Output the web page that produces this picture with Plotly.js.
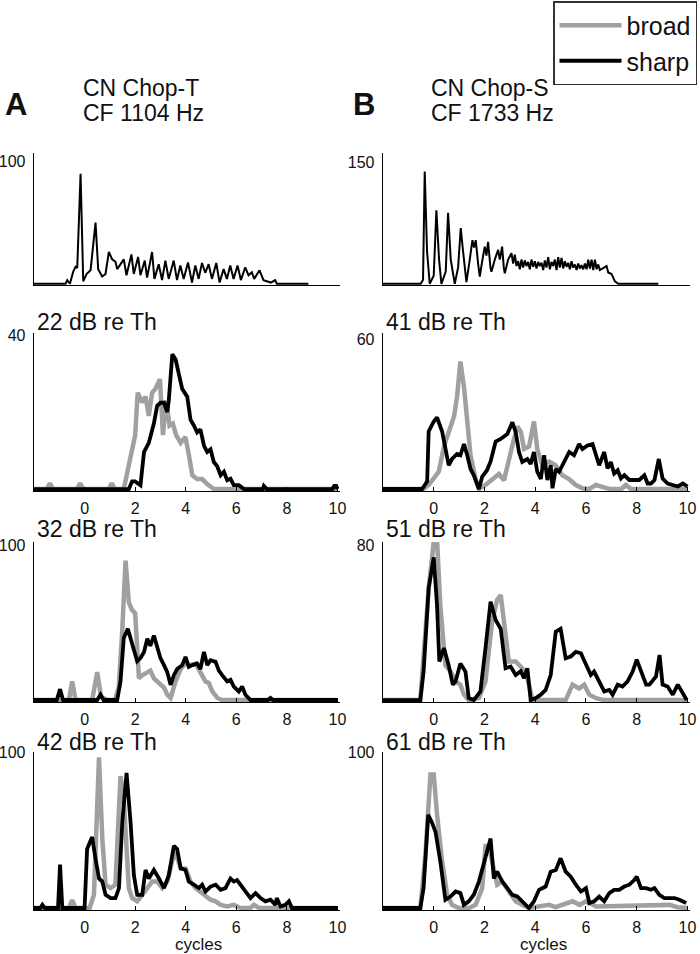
<!DOCTYPE html>
<html><head><meta charset="utf-8">
<script src="https://cdn.plot.ly/plotly-3.0.1.min.js"></script>
<style>html,body{margin:0;padding:0;background:#fff}#chart{width:700px;height:954px}</style>
</head><body><div id="chart"></div>
<script>
// ---- Top row PSTHs (arbitrary time units) ----
const psthA_t = [0,9.5,10,10.8,11.8,12.5,13,14,14.8,15.8,
  17,18.5,19.3,20.5,21.5,22.5,23.5,24.5,25,26,
  27,27.8,29.3,30,31.3,32,33.3,34,35.5,36.2,
  37.5,38.5,39.5,40.5,42,43,44,45,46.3,47.5,
  48.5,49.5,50.5,51.5,52.5,53.5,54.8,55.8,57,58,
  59,60,61.2,62.2,63.5,64.5,65.5,66.2,67.8,69,
  70,71.2,72.5,73,82.5];
const psthA_rate = [0,0,3,0,10,14,13,90,2,8,
  11,50,12,6,8,26,20,18,12,16,
  20,7,24,8,22,7,19,5,26,4,
  16,3,19,4,19,3,15,4,17.5,1,
  15,4,17,9,16,4,17,1,12,4,
  15,4,15,3,13.5,7,9.5,4,11,3,
  2,1,3,0,0];
const psthB_t = [0,11.3,12,12.5,13.2,14,15.2,16,16.8,17.5,
  18.8,19.5,20.3,21.5,22.5,23.3,24,25,26,26.8,
  27.3,27.8,28.5,29,29.8,30.5,31,31.5,32.2,32.5,
  33.5,34.5,35,35.7,36.2,36.5,37.5,38.5,39,39.5,
  40,40.5,41,41.5,42,42.5,43,43.5,44,44.5,
  45,45.5,46,46.5,47,47.5,48,48.5,49,49.5,
  50,50.5,51,51.5,52,52.5,53,53.5,54,54.5,
  55,55.5,56,56.5,57,57.5,58,58.5,59,59.5,
  60,60.5,61,61.5,62,62.5,63,63.5,64,64.5,
  65,66,67,67.5,68.5,69.5,70.5,82.5];
const psthB_rate = [0,0,5,139,40,0,10,91,30,0,
  15,88,30,0,20,69,40,2,30,54,
  45,54,25,9,30,46,35,52,20,15,
  30,42,30,46,20,13,30,38,25,36,
  22,28,18,30,20,29,22,27,18,30,
  21,28,19,27,22,26,17,29,20,33,
  18,27,22,30,17,33,20,32,19,28,
  21,26,18,28,20,24,17,25,19,23,
  18,25,18,30,19,30,17,30,18,24,
  17,20,22,14,12,3,0,0];

// ---- Column A, cycles ----
const b22_x = [-2,-1.5,-1.37,-1.25,-0.3,-0.18,-0.05,0.95,1.07,1.2,
  1.55,1.75,1.88,2.0,2.1,2.28,2.41,2.54,2.67,2.8,
  2.98,3.1,3.23,3.36,3.49,3.62,3.8,3.99,4.12,4.26,
  4.45,4.65,4.85,5.11,10];
const b22_y = [0,0,1.5,0,0,1.5,0,0,1.5,0,
  0,6,11,14,25,22.5,24,19,25,26,
  28.5,14,23,16.5,17,14,12,13.5,9,3.6,
  2.6,2.6,1.3,0,0];
const s22_x = [-2,1.75,1.88,2.0,2.21,2.35,2.54,2.74,2.87,3.0,
  3.14,3.27,3.33,3.47,3.6,3.73,3.86,4.06,4.19,4.32,
  4.45,4.58,4.72,4.85,4.98,5.11,5.24,5.38,5.51,5.64,
  5.77,5.9,6.1,6.3,7.05,7.09,7.2,9.8,9.87,9.95,
  10];
const s22_y = [0,0,2,2,1,9.6,12,17,21.6,22.4,
  22.4,20,23,35,33.6,30,26,24,18,16.5,
  14.7,15.5,11.3,9.6,10.3,7,6,3.6,4.5,2.3,
  2.7,1,1,0,0,0.8,0,0,0.8,0.8,
  0];
const b32_x = [-2,-0.62,-0.49,-0.36,0.3,0.5,0.65,0.9,1.2,1.35,
  1.49,1.62,1.75,1.88,2.0,2.08,2.15,2.28,2.48,2.6,
  2.74,2.87,3.0,3.14,3.27,3.4,3.6,3.8,3.99,4.19,
  4.39,4.58,4.78,4.91,5.05,5.25,5.44,10];
const b32_y = [0,0,12,0,0,18,2,0,0,8,
  45,90,63,58,56,30,14,16,18,19,
  14,12,10,8,3.4,1.3,12,20,23.5,22.5,
  23.5,18,12,11,5.5,1.3,0,0];
const s32_x = [-2,-1.1,-0.97,-0.85,0.5,0.63,0.75,1.29,1.42,1.55,
  1.71,1.88,2.08,2.21,2.35,2.48,2.6,2.74,2.87,3.0,
  3.14,3.27,3.4,3.53,3.66,3.86,3.99,4.12,4.26,4.45,
  4.58,4.72,4.85,4.98,5.18,5.31,5.44,5.64,5.77,5.9,
  6.1,6.23,6.36,6.56,7.25,7.35,7.45,10];
const s32_y = [0,0,7,0,0,3.4,0,0,12,40,
  46,37,25,27,31,39.5,35,41.6,35,27,
  22.5,18,9.8,16,20,22.5,27.8,21.4,22.5,23.5,
  20,31,22.5,25.7,24.6,19,16,12,13,8.7,
  5.5,8.7,3.4,0,0,1.3,0,0];
const b42_x = [-2,-0.62,-0.49,-0.36,0.2,0.37,0.57,0.7,0.83,1.03,
  1.22,1.42,1.55,1.75,1.88,2.08,2.28,2.48,2.67,2.87,
  3.07,3.27,3.46,3.6,3.8,3.99,4.19,4.39,4.58,4.78,
  4.98,5.18,5.38,5.64,5.9,6.17,6.56,6.7,6.9,10];
const b42_y = [0,0,5,0,0,8.5,97,45,15,12.8,
  15,85,70,12.8,6.4,4.3,8.5,12.8,17,17,
  12.8,17,30,36,25.5,25.5,17,12.8,10.6,8.5,
  5.3,4.3,2,1,2,0,0,2,0,0];
const s42_x = [-2,-1.75,-1.67,-1.58,-1.05,-0.97,-0.88,0.0,0.1,0.3,
  0.43,0.57,0.7,0.83,1.03,1.22,1.36,1.49,1.66,1.82,
  1.95,2.08,2.28,2.41,2.54,2.74,2.94,3.14,3.33,3.53,
  3.66,3.8,3.99,4.12,4.32,4.52,4.65,4.78,4.98,5.18,
  5.38,5.57,5.77,5.9,6.03,6.17,6.36,6.56,6.76,6.96,
  7.15,7.35,7.55,7.6,7.75,7.94,8.08,8.2,10];
const s42_y = [0,0,2,0,0,28,0,0,38,45.7,
  32,19,17,8.5,6.4,6.4,12.8,55,87,55,
  21,8.5,8.5,24.5,19,24.5,19,12.8,21,40,
  38,25.5,24.5,17,15,12.8,15,10.6,13.8,15,
  11.7,12.8,19,17,18,15,10.6,6.4,9.6,6.4,
  4.3,5.3,2,6.4,1,2,4.3,0,0];

// ---- Column B, cycles ----
const b41_x = [-2,-0.4,-0.2,0,0.2,0.4,0.6,0.8,0.92,1.05,
  1.19,1.32,1.45,1.65,1.78,2.04,2.3,2.57,2.77,2.96,
  3.16,3.3,3.43,3.56,3.76,3.95,4.08,4.28,4.55,4.8,
  5.07,5.33,5.6,5.86,6.13,6.39,6.65,6.92,7.4,7.57,
  7.77,10];
const b41_y = [0,0,1.6,4,7,17,23,29,37,51,
  41,27,13.5,4,0,1.6,4,6,3.5,12,
  20,25,23,16,17,27,16,9.5,11,9.5,
  5.5,4,1.6,0.3,0,1.6,1,0,0,1.6,
  0,0];
const s41_x = [-2,-0.46,-0.26,-0.2,0,0.13,0.33,0.46,0.59,0.72,
  0.92,1.05,1.19,1.32,1.45,1.58,1.78,1.91,2.1,2.24,
  2.44,2.64,2.77,2.9,3.1,3.23,3.36,3.49,3.69,3.82,
  3.95,4.08,4.22,4.35,4.48,4.61,4.68,4.81,4.94,5.07,
  5.2,5.34,5.53,5.73,5.86,6.06,6.26,6.39,6.52,6.72,
  6.85,6.98,7.11,7.25,7.38,7.51,7.71,7.9,8.1,8.3,
  8.43,8.56,8.7,8.87,9.02,9.22,9.42,9.62,9.82,9.95,
  10];
const s41_y = [0,0,3,23,27,28.6,23,17,9.5,12,
  14,13.5,18,13.5,8,5.5,0,5,7.5,11,
  19,20,21,22,26.7,22.7,14.8,10.8,12,10,
  14.8,6.9,4,13.5,3.6,9.5,0.3,8,6.9,9.5,
  12.8,14.8,13.5,18,16,17.4,18,13.5,9.5,14.8,
  8.2,10.8,6.2,7.5,4.2,5.5,3.6,3.6,3.6,5.5,
  2.2,2.2,3.6,12,4.2,2.2,1.6,1,2.2,1.6,
  1];
const b51_x = [-2,-0.53,-0.2,0,0.13,0.26,0.46,0.66,0.86,1.05,
  1.19,1.38,1.78,2.04,2.3,2.5,2.64,2.77,2.96,3.23,
  3.49,3.69,3.89,5.2,5.47,5.73,5.93,6.13,6.4,6.7,
  10];
const b51_y = [0,0,58,82,83,49,18,15,9.7,8,
  2.8,0,1,9.7,40.7,52,54.5,39,20,20,
  16.5,11.4,0,0,8,6,8,2.8,1,0,
  0];
const s51_x = [-2,-0.53,-0.4,-0.2,0,0.13,0.22,0.4,0.59,0.75,
  0.86,1.05,1.25,1.38,1.58,1.84,2.04,2.24,2.44,2.64,
  2.83,3.03,3.23,3.43,3.56,3.69,3.82,4.02,4.22,4.41,
  4.61,4.81,5.0,5.2,5.4,5.6,5.8,5.99,6.19,6.32,
  6.52,6.72,6.92,7.05,7.25,7.44,7.64,7.84,8.0,8.17,
  8.37,8.5,8.63,8.76,8.9,9.02,9.22,9.42,9.62,9.82,
  9.97];
const s51_y = [0,0,14.8,58,74,49,20,27,18,8,
  9.7,19,14.8,1,0,4.5,27,51,41.5,37,
  16.5,17.4,13,15,11.4,16.5,0,1,2.8,5.3,
  13,35.5,37,21.7,22.6,25,24.3,18.3,13,14.8,
  9.7,4.5,5.3,2.8,8,7,9.7,14.8,21,14.8,
  8,8,10.5,12.2,23.4,8,7,2.8,8,2.8,
  0];
const b61_x = [-2,-0.53,-0.33,-0.13,0,0.13,0.33,0.53,0.72,0.98,
  1.4,1.65,1.91,2.04,2.17,2.3,2.5,2.7,2.96,3.23,
  3.49,3.75,4.55,4.8,5.47,5.75,6.0,6.4,9.3,9.6,
  10];
const b61_y = [0,0,34,86,86,60,30,8.5,2,0,
  0,2,12.8,40,40,30,15,17,10.6,4.3,
  2,0,2,0.5,4.3,2,4.3,1,2,0.5,
  0];
const s61_x = [-2,-0.53,-0.4,-0.22,-0.07,0.07,0.26,0.46,0.66,0.86,
  1.05,1.19,1.38,1.58,1.78,1.98,2.24,2.37,2.5,2.7,
  2.9,3.1,3.29,3.49,3.75,3.95,4.15,4.41,4.61,4.81,
  5.0,5.2,5.4,5.6,5.8,6.0,6.13,6.32,6.52,6.72,
  6.92,7.11,7.31,7.51,7.71,7.9,8.0,8.17,8.37,8.56,
  8.7,8.89,9.09,9.29,9.49,9.68,9.95];
const s61_y = [0,0,12.8,60,55,49,30,5.3,7.4,10.6,
  9.6,2,4.3,8.5,17,30,44.7,19,23.4,17,
  12.8,8.5,7.4,4.3,0,4.3,11.7,13.8,23.4,24.5,
  32,23.4,20.2,15,10.6,12.8,3.2,4.3,7.4,4.3,
  9.6,11.7,11.7,13.8,15,18,20.2,12.8,12.8,11.7,
  12.8,8.5,6.4,6.4,6.4,5.3,3.2];

const cycleTicks = [0,2,4,6,8,10];
const levelTitles = ['22 dB re Th','41 dB re Th','32 dB re Th','51 dB re Th','42 dB re Th','61 dB re Th'];

// ---- layout helpers (pixel -> paper) ----
const W = 700, H = 954;
const px = v => v / W;
const py = v => 1 - v / H;
const FONT = 'Liberation Sans, Arial, Helvetica, sans-serif';
const GRAY = '#a0a0a0';

const colX = [[34, 340], [383, 690]];
const rowY = [[153, 285], [333, 491], [542, 702], [752, 910]];
const yRanges = [[-1, 107], [-1.5, 162], [-0.5, 40.5], [-0.8, 62.4], [-1.3, 102], [-1, 82], [-1.3, 100.5], [-1.3, 100.5]];
const yTicks = [100, 150, 40, 60, 100, 80, 100, 100];

const traces = [];
traces.push({x: psthA_t, y: psthA_rate, xaxis: 'x', yaxis: 'y', mode: 'lines',
  line: {color: '#000', width: 2}, showlegend: false, hoverinfo: 'skip'});
traces.push({x: psthB_t, y: psthB_rate, xaxis: 'x2', yaxis: 'y2', mode: 'lines',
  line: {color: '#000', width: 2}, showlegend: false, hoverinfo: 'skip'});

const pairs = [
  [b22_x, b22_y, s22_x, s22_y],
  [b41_x, b41_y, s41_x, s41_y],
  [b32_x, b32_y, s32_x, s32_y],
  [b51_x, b51_y, s51_x, s51_y],
  [b42_x, b42_y, s42_x, s42_y],
  [b61_x, b61_y, s61_x, s61_y]
];
pairs.forEach((p, i) => {
  const n = i + 3;
  traces.push({x: p[0], y: p[1], xaxis: 'x' + n, yaxis: 'y' + n, mode: 'lines', name: 'broad',
    line: {color: GRAY, width: 4.5}, showlegend: i === 0, legendrank: 1, hoverinfo: 'skip'});
  traces.push({x: p[2], y: p[3], xaxis: 'x' + n, yaxis: 'y' + n, mode: 'lines', name: 'sharp',
    line: {color: '#000', width: 3.8}, showlegend: i === 0, legendrank: 2, hoverinfo: 'skip'});
});

const layout = {
  width: W, height: H,
  margin: {l: 0, r: 0, t: 0, b: 0},
  paper_bgcolor: '#fff', plot_bgcolor: 'rgba(0,0,0,0)',
  font: {family: FONT, color: '#111', size: 16},
  showlegend: true,
  legend: {x: px(697), y: py(1), xanchor: 'right', yanchor: 'top',
    bordercolor: '#333', borderwidth: 1.5, bgcolor: '#fff',
    font: {family: FONT, size: 25, color: '#111'}, tracegroupgap: 0, itemwidth: 62,
    entrywidth: 152},
  annotations: [],
};

for (let n = 1; n <= 8; n++) {
  const col = (n - 1) % 2, row = Math.floor((n - 1) / 2);
  const xa = {
    domain: [px(colX[col][0]), px(colX[col][1])],
    anchor: 'y' + n, showline: true, linecolor: '#000', linewidth: 1.3,
    showgrid: false, zeroline: false, fixedrange: true
  };
  if (row === 0) {
    Object.assign(xa, {range: [0, 92], showticklabels: false, ticks: ''});
  } else {
    Object.assign(xa, {range: [-2, 10.1], tickmode: 'array', tickvals: cycleTicks,
      ticktext: cycleTicks.map(String), ticks: 'inside', ticklen: 4, tickwidth: 1, tickcolor: '#000',
      tickfont: {family: FONT, size: 16, color: '#111'}, ticklabelstandoff: 2});
  }
  const ya = {
    domain: [py(rowY[row][1]), py(rowY[row][0])],
    anchor: 'x' + n, range: yRanges[n - 1], showline: true, linecolor: '#000', linewidth: 1.3,
    showgrid: false, zeroline: false, ticks: '', tickmode: 'array',
    tickvals: [yTicks[n - 1]], ticktext: [String(yTicks[n - 1])],
    tickfont: {family: FONT, size: 16, color: '#111'}, ticklabelstandoff: 4, fixedrange: true
  };
  const sfx = n === 1 ? '' : String(n);
  layout['xaxis' + sfx] = xa;
  layout['yaxis' + sfx] = ya;
}

function note(text, x, y, opts) {
  layout.annotations.push(Object.assign({
    text: text, xref: 'paper', yref: 'paper', x: px(x), y: py(y),
    xanchor: 'left', yanchor: 'middle', showarrow: false,
    font: {family: FONT, size: 23, color: '#111'}
  }, opts || {}));
}
note('<b>A</b>', 3, 104, {font: {family: FONT, size: 31, color: '#111'}});
note('CN Chop-T', 81, 88);
note('CF 1104 Hz', 81, 113);
note('<b>B</b>', 351, 104, {font: {family: FONT, size: 31, color: '#111'}});
note('CN Chop-S', 429, 88);
note('CF 1733 Hz', 429, 113);
const titleRows = [322, 529, 742];
levelTitles.forEach((t, i) => {
  const col = i % 2, row = Math.floor(i / 2);
  note(t, colX[col][0] + 1, titleRows[row]);
});
note('cycles', 198, 944, {xanchor: 'center', font: {family: FONT, size: 17, color: '#111'}});
note('cycles', 543, 944, {xanchor: 'center', font: {family: FONT, size: 17, color: '#111'}});

Plotly.newPlot('chart', traces, layout, {staticPlot: true, displayModeBar: false});
</script></body></html>
